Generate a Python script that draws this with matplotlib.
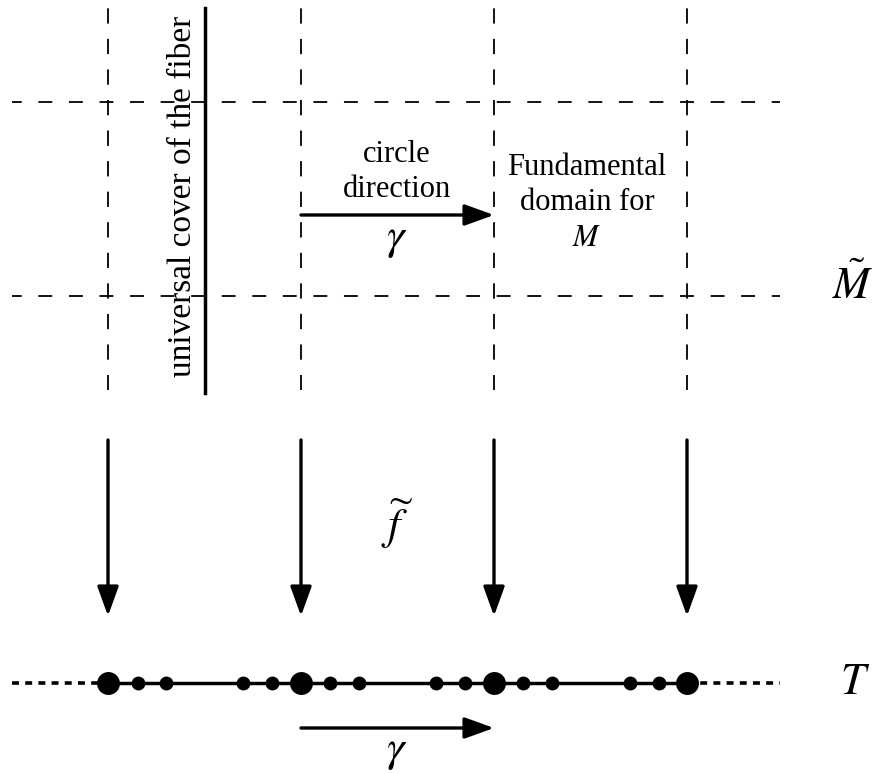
import matplotlib
matplotlib.use("Agg")
import matplotlib.pyplot as plt

plt.rcParams['font.family'] = ['Liberation Serif', 'DejaVu Serif']
plt.rcParams['mathtext.fontset'] = 'stix'
plt.rcParams['lines.scale_dashes'] = False

# diagram geometry, in pixel units of the picture
fiber_x = [108, 301, 494, 687]
grid_y = [102, 296]
grid_x_range = [12, 780]
fiber_top, fiber_bottom = 0, 390
cover_x = 205
cover_range = [8, 393]
down_arrow = [440, 616]
base_y = 683
small_points = [138, 166, 243, 272, 330, 359, 436, 465, 523, 552, 630, 659]
gamma_top = [301, 494, 215]
gamma_bottom = [301, 494, 728]

fig = plt.figure(figsize=(8.81, 7.74), dpi=100)
ax = fig.add_axes([0, 0, 1, 1])
ax.set_xlim(0, 881)
ax.set_ylim(774, 0)
ax.axis('off')

for x in fiber_x:
    ax.plot([x, x], [fiber_top, fiber_bottom], color='black', lw=1.3,
            linestyle=(16, (11, 11)))
for y in grid_y:
    ax.plot(grid_x_range, [y, y], color='black', lw=1.3, linestyle=(3, (10, 12)))

# universal cover of the fiber
ax.plot([cover_x, cover_x], cover_range, color='black', lw=2.5)
ax.text(183, 196, 'universal cover of the fiber', rotation=90, fontsize=24,
        ha='center', va='center')

arrow_h = dict(arrowstyle='-|>,head_length=1.8,head_width=0.65',
               color='black', lw=2.4, shrinkA=0, shrinkB=0)

# circle direction arrow
ax.annotate('', xy=(gamma_top[1], gamma_top[2]), xytext=(gamma_top[0], gamma_top[2]),
            arrowprops=arrow_h)
ax.text(397, 172, 'circle\ndirection', fontsize=22, ha='center', va='center',
        linespacing=1.3)
ax.text(397, 240, r'$\gamma$', fontsize=32, ha='center', va='center')
ax.text(587, 203, 'Fundamental\ndomain for\n$M$', fontsize=22, ha='center',
        va='center', linespacing=1.3)

ax.text(853, 286, r'$\tilde{M}$', fontsize=32, ha='center', va='center')

# projection arrows
for x in fiber_x:
    ax.annotate('', xy=(x, down_arrow[1]), xytext=(x, down_arrow[0]),
                arrowprops=arrow_h)
ax.text(397, 524, r'$\widetilde{f\;}$', fontsize=32, ha='center', va='center')

# base line T
ax.plot([12, fiber_x[0]], [base_y, base_y], color='black', lw=2.6,
        linestyle=(0, (5, 4.5)))
ax.plot([fiber_x[-1], 780], [base_y, base_y], color='black', lw=2.6,
        linestyle=(0, (5, 4.5)))
ax.plot([fiber_x[0], fiber_x[-1]], [base_y, base_y], color='black', lw=2.5)
ax.plot(small_points, [base_y] * len(small_points), 'o', color='black', ms=10,
        markeredgewidth=0)
ax.plot(fiber_x, [base_y] * len(fiber_x), 'o', color='black', ms=16.5,
        markeredgewidth=0)
ax.text(855, 683, r'$T$', fontsize=32, ha='center', va='center')

ax.annotate('', xy=(gamma_bottom[1], gamma_bottom[2]),
            xytext=(gamma_bottom[0], gamma_bottom[2]), arrowprops=arrow_h)
ax.text(397, 752, r'$\gamma$', fontsize=32, ha='center', va='center')

fig.savefig('out.png', dpi=100)
